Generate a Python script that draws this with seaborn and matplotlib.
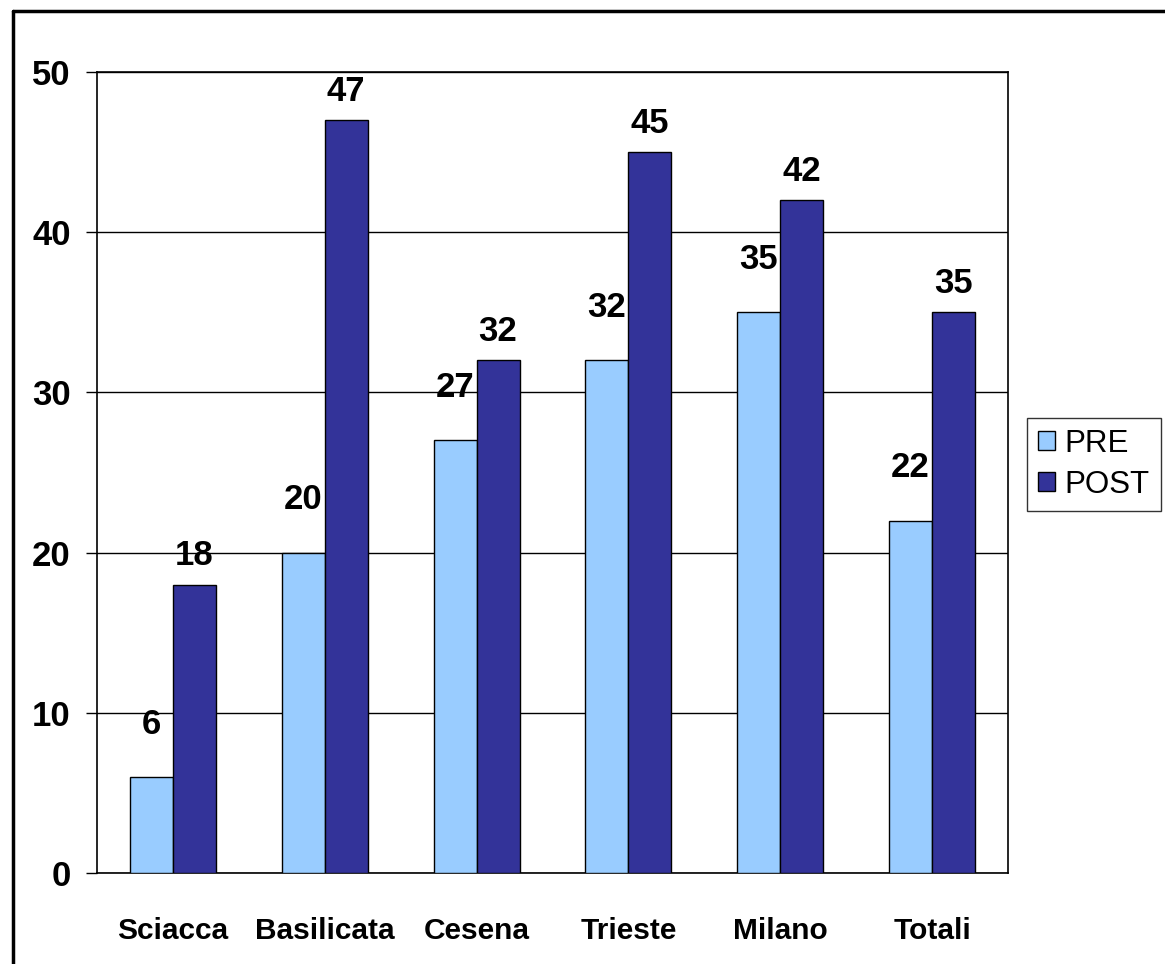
import matplotlib
matplotlib.use("Agg")
import matplotlib.pyplot as plt
from matplotlib.lines import Line2D
import seaborn as sns
import pandas as pd

categories = ["Sciacca", "Basilicata", "Cesena", "Trieste", "Milano", "Totali"]
pre_values = [6, 20, 27, 32, 35, 22]
post_values = [18, 47, 32, 45, 42, 35]
series_names = ["PRE", "POST"]
y_ticks = [0, 10, 20, 30, 40, 50]

df = pd.DataFrame({
    "cat": categories * 2,
    "serie": [series_names[0]] * len(categories) + [series_names[1]] * len(categories),
    "val": pre_values + post_values,
})

sns.set_style("white")
plt.rcParams["font.family"] = ["Liberation Sans", "DejaVu Sans"]
plt.rcParams["text.color"] = "black"
plt.rcParams["xtick.color"] = "black"
plt.rcParams["ytick.color"] = "black"
plt.rcParams["xtick.labelcolor"] = "black"
plt.rcParams["ytick.labelcolor"] = "black"

fig = plt.figure(figsize=(11.65, 9.64), dpi=100)
ax = fig.add_axes([97 / 1165, 1 - 873 / 964, (1008 - 97) / 1165, (873 - 72) / 964])

sns.barplot(data=df, x="cat", y="val", hue="serie", order=categories,
            hue_order=series_names, palette=["#99CCFF", "#333399"],
            width=0.566, gap=0, edgecolor="black", linewidth=1,
            saturation=1, ax=ax, legend=True, zorder=3)

ax.set_ylim(0, 50)
ax.set_xlim(-0.5, len(categories) - 0.5)
ax.set_yticks(y_ticks)
ax.set_yticklabels([str(t) for t in y_ticks], fontsize=25, fontweight="bold", color="black")
ax.set_xticks(range(len(categories)))
ax.set_xticklabels(categories, fontsize=21.5, fontweight="bold", color="black")
ax.set_xticks([i - 0.5 for i in range(len(categories) + 1)], minor=True)
ax.tick_params(axis="x", which="major", length=0, pad=32)
ax.tick_params(axis="x", which="minor", length=8, width=1, direction="out", color="black")
ax.tick_params(axis="y", which="major", length=8, width=1, direction="out", color="black", pad=11, left=True)
ax.set_xlabel("")
ax.set_ylabel("")

ax.yaxis.grid(True, color="black", linewidth=1, zorder=0)
ax.set_axisbelow(True)
for s in ax.spines.values():
    s.set_visible(True)
    s.set_color("black")
    s.set_linewidth(1.2)

for cont, pad in zip(ax.containers, [26, 9]):
    ax.bar_label(cont, padding=pad, fontsize=25, fontweight="bold", color="black")

leg = ax.legend(loc="upper left", bbox_to_anchor=(1027 / 1165, 1 - 418 / 964),
                bbox_transform=fig.transFigure, frameon=True, fancybox=False,
                edgecolor="black", fontsize=22.5, handlelength=0.55, handleheight=0.55,
                handletextpad=0.3, borderpad=0.35, labelspacing=0.35, borderaxespad=0)
leg.get_frame().set_linewidth(1)
for h in leg.legend_handles:
    h.set_edgecolor("black")
for t in leg.get_texts():
    t.set_color("black")

fig.add_artist(Line2D([13 / 1165, 13 / 1165], [0, 1 - 11 / 964], color="black", linewidth=2.5,
                      transform=fig.transFigure))
fig.add_artist(Line2D([13 / 1165, 1], [1 - 11 / 964, 1 - 11 / 964], color="black", linewidth=2.5,
                      transform=fig.transFigure))

fig.savefig("out.png", dpi=100)
